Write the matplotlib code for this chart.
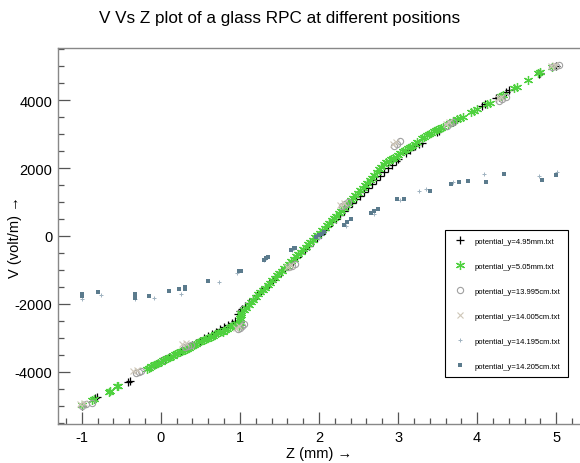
import matplotlib
matplotlib.use("Agg")
import matplotlib.pyplot as plt
from matplotlib.ticker import MultipleLocator

plt.rcParams['font.family'] = ['Liberation Sans', 'DejaVu Sans']
plt.rcParams['axes.unicode_minus'] = False

# potential_y=4.95mm.txt
z_495 = [-1.00, -0.83, -0.81, -0.41, -0.39, -0.12, -0.08, -0.04, 0.00, 0.05, 0.10, 0.15, 0.20, 0.25,
         0.30, 0.35, 0.40, 0.45, 0.50, 0.55, 0.60, 0.65, 0.70, 0.75, 0.80, 0.85, 0.90, 0.94, 0.97,
         1.00, 1.03, 1.07, 1.12, 1.17, 1.22, 1.27, 1.32, 1.37, 1.42, 1.47, 1.52, 1.57, 1.62, 1.67,
         1.72, 1.77, 1.82, 1.87, 1.92, 1.97, 2.02, 2.07, 2.12, 2.17, 2.22, 2.27, 2.32, 2.37, 2.42,
         2.47, 2.52, 2.57, 2.62, 2.67, 2.72, 2.77, 2.82, 2.87, 2.92, 2.97, 3.00, 3.10, 3.15, 3.22,
         3.26, 3.30, 3.49, 3.52, 3.70, 3.72, 4.06, 4.10, 4.24, 4.27, 4.36, 4.40, 4.78, 4.80, 5.00]
v_495 = [-4990, -4770, -4750, -4290, -4260, -3850, -3790, -3740, -3690, -3630, -3570, -3510, -3450, -3390,
         -3320, -3260, -3200, -3140, -3080, -3010, -2950, -2880, -2820, -2750, -2690, -2620, -2560, -2500, -2300,
         -2220, -2150, -2060, -1960, -1850, -1740, -1630, -1520, -1410, -1290, -1180, -1070, -960, -840, -730,
         -620, -500, -390, -280, -160, -50, 60, 170, 280, 400, 510, 620, 740, 850, 960,
         1080, 1190, 1300, 1420, 1530, 1640, 1760, 1870, 1990, 2100, 2200, 2260, 2440, 2520, 2640,
         2700, 2750, 3050, 3090, 3350, 3380, 3830, 3870, 4050, 4090, 4230, 4280, 4760, 4790, 5000]

# potential_y=5.05mm.txt
z_505 = [-1.00, -0.87, -0.85, -0.66, -0.64, -0.56, -0.54, -0.18, -0.15, -0.12, -0.09, -0.06, -0.03, 0.00,
         0.03, 0.06, 0.09, 0.12, 0.15, 0.18, 0.21, 0.24, 0.27, 0.30, 0.33, 0.36, 0.39, 0.42, 0.45,
         0.48, 0.51, 0.54, 0.57, 0.60, 0.63, 0.66, 0.69, 0.72, 0.75, 0.78, 0.81, 0.84, 0.87, 0.90,
         0.93, 0.96, 0.99, 1.00, 1.00, 1.00, 1.01, 1.02, 1.05, 1.08, 1.11, 1.14, 1.17, 1.20, 1.23,
         1.26, 1.29, 1.32, 1.35, 1.38, 1.41, 1.44, 1.47, 1.50, 1.53, 1.56, 1.59, 1.62, 1.65, 1.68,
         1.71, 1.74, 1.77, 1.80, 1.83, 1.86, 1.89, 1.92, 1.95, 1.98, 2.01, 2.04, 2.07, 2.10, 2.13,
         2.16, 2.19, 2.22, 2.25, 2.28, 2.31, 2.34, 2.37, 2.40, 2.43, 2.46, 2.49, 2.52, 2.55, 2.58,
         2.61, 2.64, 2.67, 2.70, 2.73, 2.76, 2.79, 2.82, 2.85, 2.88, 2.91, 2.94, 2.97, 3.00, 3.03,
         3.06, 3.09, 3.12, 3.15, 3.18, 3.21, 3.24, 3.30, 3.33, 3.36, 3.39, 3.42, 3.45, 3.48, 3.51,
         3.54, 3.57, 3.63, 3.66, 3.70, 3.74, 3.78, 3.82, 3.92, 3.96, 4.00, 4.12, 4.16, 4.30, 4.33,
         4.47, 4.50, 4.64, 4.77, 4.80, 4.95]
v_505 = [-4980, -4810, -4780, -4580, -4550, -4420, -4400, -3900, -3870, -3830, -3800, -3760, -3730, -3700,
         -3660, -3620, -3590, -3560, -3530, -3480, -3450, -3420, -3380, -3340, -3310, -3280, -3240, -3210, -3170,
         -3130, -3100, -3060, -3030, -2990, -2960, -2930, -2890, -2860, -2830, -2810, -2770, -2730, -2690, -2650,
         -2620, -2600, -2640, -2560, -2480, -2400, -2330, -2260, -2190, -2110, -2020, -1940, -1870, -1800, -1720,
         -1660, -1590, -1520, -1450, -1380, -1300, -1230, -1160, -1090, -1020, -950, -880, -810, -740, -670,
         -600, -530, -460, -390, -320, -250, -180, -110, -40, 30, 100, 170, 240, 310, 380,
         460, 530, 600, 680, 750, 820, 900, 970, 1050, 1120, 1200, 1270, 1350, 1420, 1500,
         1570, 1650, 1720, 1800, 1880, 1960, 2030, 2110, 2170, 2220, 2260, 2290, 2330, 2380, 2440,
         2490, 2540, 2580, 2620, 2660, 2700, 2760, 2870, 2920, 2960, 3000, 3040, 3080, 3110, 3140,
         3170, 3210, 3290, 3330, 3390, 3430, 3470, 3510, 3640, 3690, 3730, 3870, 3920, 4120, 4160,
         4350, 4390, 4590, 4780, 4820, 4960]

# potential_y=13.995cm.txt
z_13995 = [-1.00, -0.94, -0.87, -0.32, -0.28, -0.25, 0.30, 0.34, 0.38, 0.97, 1.00, 1.03, 1.05,
           1.62, 1.66, 1.70, 2.29, 2.33, 2.37, 2.95, 2.99, 3.03, 3.62, 3.66, 3.70, 4.28, 4.32, 4.36,
           4.95, 5.00, 5.03]
v_13995 = [-4990, -4940, -4900, -4030, -4000, -3980, -3270, -3230, -3200, -2740, -2700, -2650, -2600,
           -920, -870, -820, 880, 940, 1000, 2650, 2720, 2780, 3250, 3310, 3360, 3980, 4030, 4080,
           4960, 5000, 5030]

# potential_y=14.005cm.txt
z_14005 = [-1.02, -0.97, -0.35, -0.30, 0.27, 0.32, 0.95, 0.99, 1.60, 1.64, 2.27, 2.31, 2.93, 2.97,
           3.60, 3.64, 4.26, 4.30, 4.93, 4.98]
v_14005 = [-4950, -4900, -3970, -3940, -3190, -3150, -2700, -2660, -900, -840, 900, 960, 2700, 2760,
           3300, 3350, 4050, 4100, 4990, 5040]

# potential_y=14.195cm.txt
z_14195 = [-1.00, -0.76, -0.33, -0.09, 0.26, 0.73, 0.96, 1.30, 1.66, 2.00, 2.34, 2.70, 3.03, 3.27,
           3.35, 3.70, 4.09, 4.78, 5.01]
v_14195 = [-1860, -1730, -1840, -1820, -1700, -1340, -1080, -720, -420, -60, 300, 650, 1050, 1330,
           1380, 1600, 1820, 1770, 1880]

# potential_y=14.205cm.txt
z_14205 = [-1.00, -1.00, -0.80, -0.33, -0.33, -0.33, -0.15, 0.10, 0.23, 0.30, 0.30, 0.60, 0.99, 1.01,
           1.30, 1.33, 1.36, 1.65, 1.68, 1.70, 1.96, 2.00, 2.04, 2.06, 2.32, 2.36, 2.40, 2.66, 2.70,
           2.74, 2.99, 3.07, 3.40, 3.67, 3.77, 3.88, 4.11, 4.34, 4.82, 5.00]
v_14205 = [-1770, -1720, -1660, -1770, -1820, -1720, -1760, -1620, -1560, -1500, -1560, -1310, -1040, -1020,
           -700, -660, -620, -400, -360, -340, -30, 20, 70, 120, 330, 410, 500, 680, 740,
           800, 1080, 1080, 1330, 1540, 1580, 1620, 1580, 1820, 1660, 1800]

fig = plt.figure(figsize=(5.8, 4.64), dpi=100)
ax = fig.add_axes([58/580, 39/464, 522/580, 376/464])

ax.plot(z_495, v_495, '+', color='black', ms=5.5, mew=0.9, label='potential_y=4.95mm.txt')
ax.plot(z_505, v_505, marker=(6, 2, 0), ls='none', color='#4fd13f', ms=6.5, mew=0.9,
        label='potential_y=5.05mm.txt')
ax.plot(z_13995, v_13995, 'o', mfc='none', mec='#a0a0a0', ms=4.5, mew=0.8, label='potential_y=13.995cm.txt')
ax.plot(z_14005, v_14005, 'x', color='#cfc7b8', ms=4.5, mew=0.8, label='potential_y=14.005cm.txt')
ax.plot(z_14195, v_14195, '+', color='#9fb2c0', ms=3.5, mew=0.7, label='potential_y=14.195cm.txt')
ax.plot(z_14205, v_14205, 's', color='#5b7b8d', ms=2.5, mew=0, label='potential_y=14.205cm.txt')

ax.set_xlim(-1.3, 5.3)
ax.set_ylim(-5530, 5530)
ax.xaxis.set_major_locator(MultipleLocator(1))
ax.xaxis.set_minor_locator(MultipleLocator(0.2))
ax.yaxis.set_major_locator(MultipleLocator(2000))
ax.yaxis.set_minor_locator(MultipleLocator(500))
ax.tick_params(which='both', direction='in', color='#555555', labelsize=10.5, top=False, right=False)
ax.tick_params(which='major', length=8.5, width=0.9, pad=4)
ax.tick_params(which='minor', length=4.3, width=0.9)
for s in ['left', 'bottom', 'top']:
    ax.spines[s].set_color('#888888')
    ax.spines[s].set_linewidth(1.0)
ax.spines['right'].set_visible(False)

ax.set_xlabel('Z (mm) →', fontsize=10.5, labelpad=2)
ax.set_ylabel('V (volt/m) →', fontsize=10.5)
ax.yaxis.set_label_coords(-36/522, 0.5)
fig.text(280/580, 1 - 18/464, 'V Vs Z plot of a glass RPC at different positions',
         ha='center', va='center', fontsize=12.3)

leg = ax.legend(loc='upper left', bbox_to_anchor=(445/580, 1 - 231/464), bbox_transform=fig.transFigure,
                fontsize=5.5, frameon=True, fancybox=False, edgecolor='black', framealpha=1,
                labelspacing=2.3, handlelength=2.0, handletextpad=0.9, borderpad=1.0, borderaxespad=0)
leg.get_frame().set_linewidth(0.8)

fig.savefig('out.png', dpi=100)
